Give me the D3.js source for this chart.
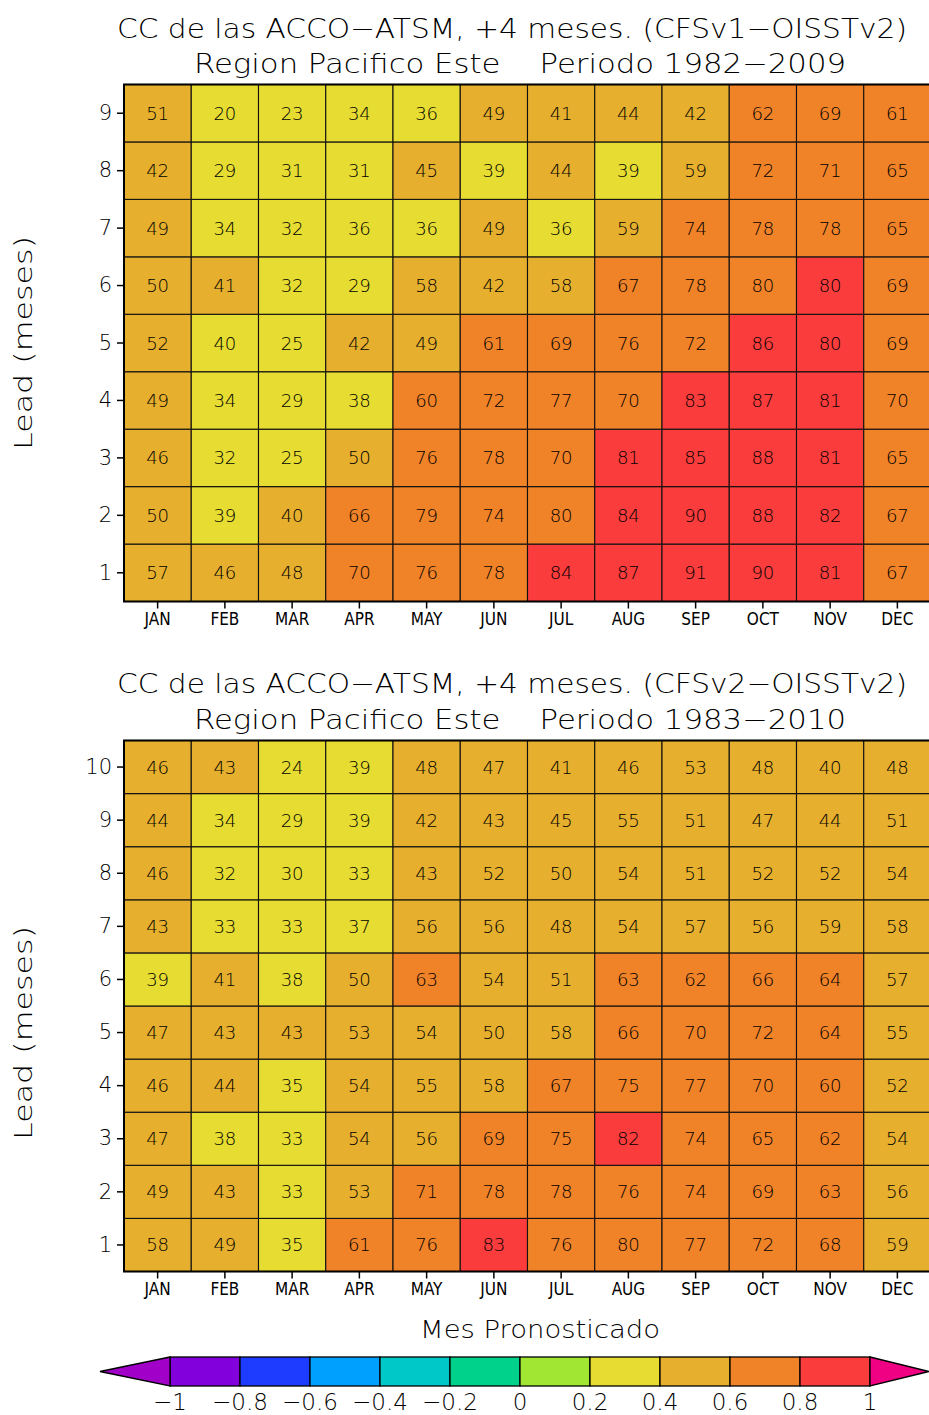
<!DOCTYPE html>
<html>
<head>
<meta charset="utf-8">
<script src="https://cdn.jsdelivr.net/npm/d3@7"></script>
<style>
  html, body { margin: 0; padding: 0; background: #fff; }
  svg { display: block; }
  text { font-family: "DejaVu Sans", "Liberation Sans", sans-serif; fill: #000; }
</style>
</head>
<body>
<svg id="chart" width="929" height="1415"></svg>
<script>
// ---------- Data ----------
const months = ["JAN","FEB","MAR","APR","MAY","JUN","JUL","AUG","SEP","OCT","NOV","DEC"];

// Panel 1: CFSv1-OISSTv2, leads 1..9 (values x100)
const v1Leads = [1,2,3,4,5,6,7,8,9];
const v1Lead1 = [57,46,48,70,76,78,84,87,91,90,81,67];
const v1Lead2 = [50,39,40.2,66,79,74,79.8,84,90,88,82,67];
const v1Lead3 = [46,32,25,50,76,78,70,81,85,88,81,65];
const v1Lead4 = [49,34,29,38,60.2,72,77,70,83,87,81,70];
const v1Lead5 = [52,39.8,25,42,49,61,69,76,72,86,80.2,69];
const v1Lead6 = [50,41,32,29,58,42,58,67,78,79.8,80.2,69];
const v1Lead7 = [49,34,32,36,36,49,36,59,74,78,78,65];
const v1Lead8 = [42,29,31,31,45,39,44,39,59,72,71,65];
const v1Lead9 = [51,20,23,34,36,49,41,44,42,62,69,61];

// Panel 2: CFSv2-OISSTv2, leads 1..10 (values x100)
const v2Leads = [1,2,3,4,5,6,7,8,9,10];
const v2Lead1 = [58,49,35,61,76,83,76,79.8,77,72,68,59];
const v2Lead2 = [49,43,33,53,71,78,78,76,74,69,63,56];
const v2Lead3 = [47,38,33,54,56,69,75,82,74,65,62,54];
const v2Lead4 = [46,44,35,54,55,58,67,75,77,70,60.2,52];
const v2Lead5 = [47,43,43,53,54,50,58,66,70,72,64,55];
const v2Lead6 = [39,41,38,50,63,54,51,63,62,66,64,57];
const v2Lead7 = [43,33,33,37,56,56,48,54,57,56,59,58];
const v2Lead8 = [46,32,30,33,43,52,50,54,51,52,52,54];
const v2Lead9 = [44,34,29,39,42,43,45,55,51,47,44,51];
const v2Lead10 = [46,43,24,39,48,47,41,46,53,48,40.2,48];

// Colour scale
const levels = [-1,-0.8,-0.6,-0.4,-0.2,0,0.2,0.4,0.6,0.8,1];
const levelLabels = ["\u22121","\u22120.8","\u22120.6","\u22120.4","\u22120.2","0","0.2","0.4","0.6","0.8","1"];
const palette = ["#A000C8","#8200DC","#1E3CFF","#00A0FF","#00C8C8","#00D28C","#A0E632","#E6DC32","#E6AF2D","#F08228","#FA3C3C","#F00082"];

const titles1 = ["CC de las ACCO\u2212ATSM, +4 meses. (CFSv1\u2212OISSTv2)", "Region Pacifico Este    Periodo 1982\u22122009"];
const titles2 = ["CC de las ACCO\u2212ATSM, +4 meses. (CFSv2\u2212OISSTv2)", "Region Pacifico Este    Periodo 1983\u22122010"];
const yLabel = "Lead (meses)";
const xLabel = "Mes Pronosticado";

// ---------- Drawing ----------
const svg = d3.select("#chart");
const color = d3.scaleThreshold().domain(levels).range(palette);

function panel(opts) {
  const { leads, rows, top, bottom, left, right, titles, titleY, labelY } = opts;
  const g = svg.append("g");
  const x = d3.scaleBand().domain(months).range([left, right]);
  const y = d3.scaleBand().domain(leads.slice().reverse()).range([top, bottom]);

  const cells = [];
  leads.forEach((l, i) => rows[i].forEach((v, j) => cells.push({ lead: l, month: months[j], v })));

  g.selectAll("rect.cell").data(cells).enter().append("rect")
    .attr("x", d => x(d.month)).attr("y", d => y(d.lead))
    .attr("width", x.bandwidth()).attr("height", y.bandwidth())
    .attr("fill", d => color(d.v / 100))
    .attr("stroke", "#111").attr("stroke-width", 1.1);

  g.selectAll("text.val").data(cells).enter().append("text")
    .attr("x", d => x(d.month) + x.bandwidth() / 2)
    .attr("y", d => y(d.lead) + y.bandwidth() / 2)
    .attr("text-anchor", "middle").attr("dominant-baseline", "central")
    .style("font-size", "18px").style("font-weight", "300")
    .attr("textLength", 23).attr("lengthAdjust", "spacingAndGlyphs")
    .text(d => Math.round(d.v));

  g.append("rect").attr("x", left).attr("y", top).attr("width", right - left).attr("height", bottom - top)
    .attr("fill", "none").attr("stroke", "#000").attr("stroke-width", 2);

  // Axes
  const ax = g.append("g").attr("transform", `translate(0,${bottom})`)
    .call(d3.axisBottom(x).tickSize(7).tickPadding(4));
  ax.select(".domain").remove();
  ax.selectAll("line").attr("stroke", "#000").attr("stroke-width", 1.5);
  ax.selectAll("text").style("font-size", "17px")
    .style("font-family", "'DejaVu Sans Condensed','Liberation Sans Narrow',sans-serif");

  const ay = g.append("g").attr("transform", `translate(${left},0)`)
    .call(d3.axisLeft(y).tickSize(7).tickPadding(5));
  ay.select(".domain").remove();
  ay.selectAll("line").attr("stroke", "#000").attr("stroke-width", 1.5);
  ay.selectAll("text").style("font-size", "21px").style("font-weight", "300");

  // Titles
  g.append("text").attr("x", 512).attr("y", titleY[0]).attr("text-anchor", "middle")
    .style("font-size", "27px").style("font-weight", "300")
    .attr("textLength", 790).attr("lengthAdjust", "spacingAndGlyphs")
    .text(titles[0]);
  g.append("text").attr("x", 520).attr("y", titleY[1]).attr("text-anchor", "middle")
    .style("font-size", "27px").style("font-weight", "300")
    .attr("textLength", 652).attr("lengthAdjust", "spacingAndGlyphs")
    .attr("xml:space", "preserve").style("white-space", "pre")
    .text(titles[1]);

  // Y label
  g.append("text").attr("transform", `translate(32,${labelY}) rotate(-90)`)
    .attr("text-anchor", "middle").style("font-size", "24px").style("font-weight", "300")
    .attr("textLength", 214).attr("lengthAdjust", "spacingAndGlyphs")
    .text(yLabel);
}

panel({ leads: v1Leads,
  rows: [v1Lead1,v1Lead2,v1Lead3,v1Lead4,v1Lead5,v1Lead6,v1Lead7,v1Lead8,v1Lead9],
  top: 84.5, bottom: 601.5, left: 124, right: 931, titles: titles1, titleY: [38, 73], labelY: 343 });

panel({ leads: v2Leads,
  rows: [v2Lead1,v2Lead2,v2Lead3,v2Lead4,v2Lead5,v2Lead6,v2Lead7,v2Lead8,v2Lead9,v2Lead10],
  top: 740.5, bottom: 1271.5, left: 124, right: 931, titles: titles2, titleY: [693, 729], labelY: 1033 });

// X label
svg.append("text").attr("x", 540).attr("y", 1338).attr("text-anchor", "middle")
  .style("font-size", "25px").style("font-weight", "300")
  .attr("textLength", 240).attr("lengthAdjust", "spacingAndGlyphs")
  .text(xLabel);

// Colour bar
const cb = svg.append("g");
const cx = d3.scaleLinear().domain([-1, 1]).range([170, 870]);
const cbTop = 1357, cbBot = 1386, cbMid = (cbTop + cbBot) / 2;
const boxes = d3.range(levels.length - 1).map(i => ({ a: levels[i], b: levels[i + 1], c: palette[i + 1] }));
cb.selectAll("rect").data(boxes).enter().append("rect")
  .attr("x", d => cx(d.a)).attr("y", cbTop)
  .attr("width", d => cx(d.b) - cx(d.a)).attr("height", cbBot - cbTop)
  .attr("fill", d => d.c).attr("stroke", "#000").attr("stroke-width", 1.3);
cb.append("path").attr("d", `M${cx(-1)},${cbTop}L100,${cbMid}L${cx(-1)},${cbBot}Z`)
  .attr("fill", palette[0]).attr("stroke", "#000").attr("stroke-width", 1.3);
cb.append("path").attr("d", `M${cx(1)},${cbTop}L929,${cbMid}L${cx(1)},${cbBot}Z`)
  .attr("fill", palette[palette.length - 1]).attr("stroke", "#000").attr("stroke-width", 1.3);
cb.selectAll("text").data(levels).enter().append("text")
  .attr("x", d => cx(d)).attr("y", 1410).attr("text-anchor", "middle")
  .style("font-size", "23px").style("font-weight", "300")
  .text((d, i) => levelLabels[i]);
</script>
</body>
</html>
